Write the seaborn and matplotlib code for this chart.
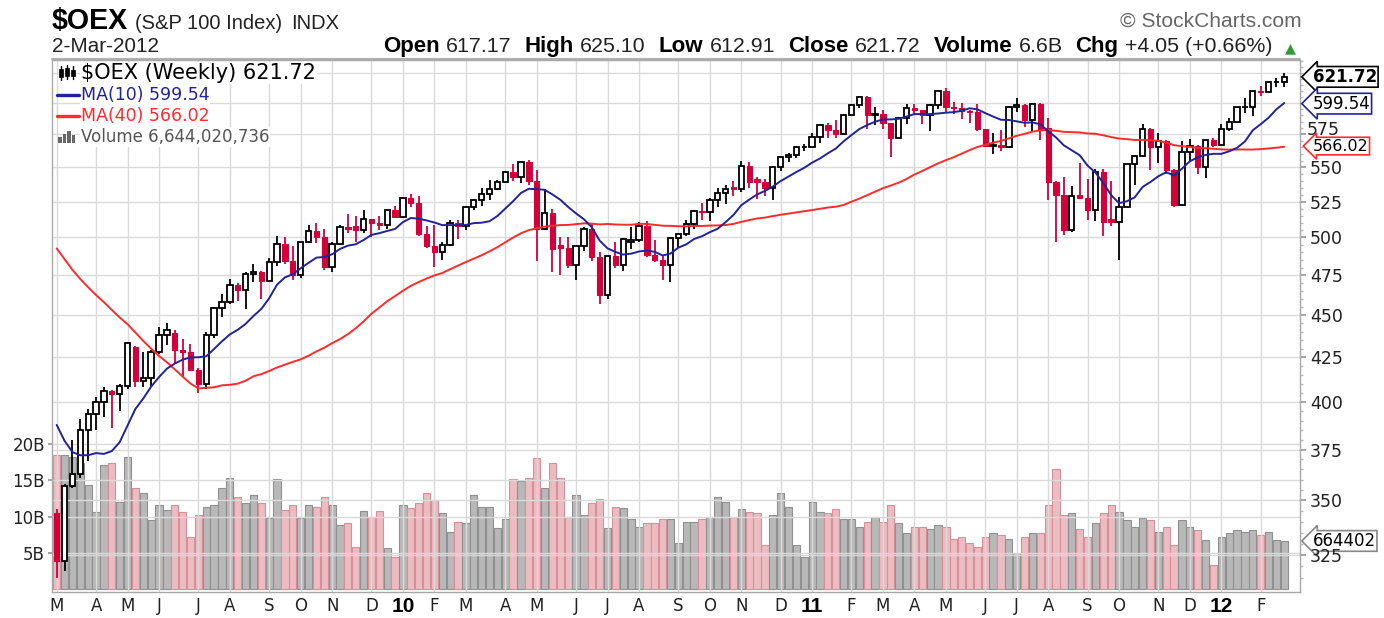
import numpy as np
import pandas as pd
import matplotlib
matplotlib.use("Agg")
import matplotlib.pyplot as plt
import matplotlib.transforms as mtransforms
from matplotlib.lines import Line2D
from matplotlib.patches import Rectangle
import seaborn as sns

# weekly bars of $OEX, weeks ending 6-Mar-2009 ... 2-Mar-2012
week_end = pd.date_range("2009-03-06", "2012-03-02", freq="W-FRI")

open_px = [
    344.00, 322.56, 357.09, 362.75, 385.12, 393.45, 400.01, 406.10, 404.53, 408.92,
    431.00, 411.42, 413.34, 428.32, 438.08, 439.00, 429.29, 428.21, 417.73, 409.67,
    438.22, 454.38, 458.19, 468.86, 465.90, 476.12, 477.42, 471.61, 483.83, 495.69,
    484.07, 475.18, 496.64, 504.14, 500.39, 480.27, 495.62, 506.83, 507.50, 505.20,
    512.62, 510.05, 508.24, 519.31, 514.06, 527.84, 523.71, 502.21, 493.98, 490.45,
    494.73, 510.22, 508.07, 520.96, 526.12, 530.65, 533.72, 538.98, 546.42, 542.42,
    553.86, 539.94, 505.45, 516.73, 495.00, 492.96, 481.86, 493.95, 505.67, 487.23,
    462.72, 487.78, 481.86, 497.00, 498.47, 507.54, 488.36, 484.94, 481.73, 499.79,
    502.07, 509.33, 518.62, 517.53, 526.07, 531.05, 535.60, 534.24, 551.02, 541.00,
    539.28, 534.63, 550.51, 557.56, 559.14, 564.92, 565.31, 572.81, 582.60, 578.15,
    574.99, 590.55, 598.78, 605.03, 590.65, 591.21, 583.67, 572.44, 587.93, 596.25,
    594.36, 590.56, 598.48, 610.22, 597.06, 595.98, 593.97, 593.01, 579.22, 566.22,
    566.45, 565.09, 596.82, 598.66, 586.34, 599.21, 580.00, 539.12, 529.88, 505.03,
    529.50, 527.70, 518.83, 546.60, 513.00, 510.27, 521.11, 552.29, 558.45, 579.58,
    565.21, 570.00, 548.26, 522.56, 561.17, 566.09, 550.07, 570.66, 567.18, 579.49,
    584.60, 596.52, 596.96, 609.91, 608.89, 617.32, 617.17,
]
high_px = [
    346.0, 358.0, 380.0, 391.0, 396.0, 402.5, 408.0, 406.5, 410.0, 434.0,
    431.5, 428.0, 429.0, 443.0, 445.0, 441.0, 435.5, 433.0, 419.0, 440.0,
    455.0, 463.0, 472.5, 470.0, 477.0, 482.5, 478.0, 486.0, 501.0, 500.5,
    494.0, 497.0, 508.5, 510.0, 506.0, 497.0, 508.5, 516.0, 515.0, 519.0,
    513.0, 515.0, 520.0, 521.5, 528.5, 530.5, 529.0, 508.0, 508.5, 497.0,
    512.0, 512.0, 521.5, 527.0, 535.0, 540.5, 540.5, 547.0, 552.5, 554.5,
    555.5, 548.0, 534.0, 520.0, 500.0, 500.0, 494.5, 507.0, 510.0, 490.0,
    488.0, 497.0, 499.5, 507.0, 510.5, 511.0, 498.0, 488.0, 500.5, 503.0,
    512.0, 519.0, 524.0, 527.5, 535.0, 537.0, 540.0, 554.5, 554.0, 543.0,
    541.5, 551.0, 558.0, 560.5, 566.0, 567.5, 576.0, 583.0, 584.0, 586.5,
    591.0, 599.5, 605.5, 606.0, 596.5, 594.0, 584.0, 589.0, 599.0, 599.5,
    594.5, 599.0, 611.0, 612.0, 601.0, 600.0, 594.0, 599.5, 579.5, 576.0,
    578.5, 597.5, 604.5, 599.0, 600.0, 600.0, 588.0, 540.0, 543.0, 536.0,
    553.0, 541.0, 548.5, 549.0, 539.5, 528.5, 552.5, 559.0, 583.0, 580.0,
    576.0, 570.5, 548.5, 570.0, 571.5, 566.5, 570.7, 572.5, 583.0, 588.0,
    597.0, 604.5, 610.0, 614.0, 618.5, 621.0, 625.10,
]
low_px = [
    315.0, 318.0, 356.0, 361.0, 369.0, 385.0, 392.0, 386.0, 395.0, 407.0,
    408.0, 408.0, 409.0, 427.0, 432.0, 421.0, 414.0, 417.0, 405.0, 407.0,
    436.0, 449.0, 457.0, 459.0, 454.0, 471.0, 460.0, 471.0, 481.0, 482.0,
    472.0, 473.0, 496.0, 496.0, 478.5, 477.0, 495.0, 503.0, 497.0, 503.0,
    500.5, 505.0, 506.0, 513.5, 513.5, 521.0, 501.0, 493.0, 480.5, 485.0,
    494.0, 499.0, 505.0, 519.0, 522.0, 526.0, 533.0, 538.5, 539.5, 538.5,
    537.0, 484.0, 505.0, 477.0, 475.0, 480.0, 472.0, 491.0, 484.0, 457.0,
    460.0, 480.0, 478.0, 492.0, 497.0, 487.0, 483.5, 472.0, 471.0, 493.0,
    501.0, 506.0, 512.0, 511.0, 521.0, 523.0, 529.0, 531.5, 535.0, 527.0,
    529.0, 526.0, 547.0, 554.0, 557.0, 562.5, 565.0, 568.5, 572.5, 572.0,
    574.5, 590.0, 596.0, 579.0, 582.5, 579.0, 558.0, 572.0, 583.0, 591.0,
    583.0, 578.0, 595.5, 592.0, 591.0, 587.0, 584.0, 578.0, 565.0, 560.0,
    562.0, 564.5, 593.0, 580.5, 577.0, 571.0, 526.0, 497.0, 502.0, 504.0,
    527.0, 512.0, 511.0, 501.0, 508.0, 485.0, 521.0, 537.0, 558.0, 548.0,
    553.0, 545.0, 521.0, 522.0, 555.0, 545.0, 542.0, 565.5, 567.0, 578.0,
    584.5, 592.0, 589.5, 605.5, 608.0, 613.0, 612.91,
]
close_px = [
    322.56, 357.09, 362.75, 385.12, 393.45, 400.01, 406.10, 404.53, 408.92, 433.02,
    411.42, 413.34, 428.32, 438.08, 440.93, 429.29, 428.21, 417.73, 409.67, 438.22,
    454.38, 458.19, 468.86, 465.90, 476.12, 477.42, 471.61, 483.83, 495.69, 484.07,
    475.18, 496.64, 504.14, 500.39, 480.27, 495.62, 506.83, 505.85, 505.20, 512.62,
    510.05, 508.24, 519.31, 514.06, 527.84, 523.71, 502.21, 493.98, 490.45, 494.73,
    510.22, 508.07, 520.96, 526.12, 530.65, 533.72, 538.98, 546.42, 542.42, 553.86,
    539.94, 505.45, 516.73, 492.18, 492.96, 481.86, 493.95, 505.67, 487.23, 462.72,
    487.78, 481.86, 498.95, 498.47, 507.54, 488.36, 484.94, 481.73, 499.79, 502.07,
    509.33, 518.62, 517.53, 526.07, 531.05, 534.16, 534.24, 551.02, 539.04, 539.28,
    534.63, 550.51, 557.56, 559.14, 564.92, 565.31, 572.81, 582.60, 578.15, 574.99,
    590.55, 598.78, 605.03, 590.65, 591.21, 583.67, 572.44, 587.93, 596.25, 594.36,
    590.56, 598.48, 610.22, 597.06, 595.98, 593.97, 593.01, 579.22, 566.22, 566.45,
    565.09, 596.82, 598.66, 586.34, 599.21, 578.50, 539.12, 529.88, 505.03, 528.97,
    527.70, 518.83, 546.60, 510.83, 510.27, 521.11, 552.29, 558.45, 579.58, 565.21,
    570.00, 548.26, 522.56, 561.17, 566.09, 550.07, 570.66, 567.18, 579.49, 584.60,
    596.52, 596.96, 609.91, 608.89, 617.32, 617.67, 621.72,
]
# volume in billions of shares
volume_bn = [
    18.5, 18.5, 18.2, 17.4, 14.3, 10.6, 17.1, 17.4, 12.0, 18.2,
    13.9, 13.2, 9.5, 11.6, 10.9, 11.6, 10.6, 7.2, 10.2, 11.3,
    11.6, 13.9, 15.3, 12.7, 11.9, 13.0, 11.9, 9.8, 15.2, 10.9,
    11.6, 9.8, 11.6, 11.3, 12.7, 11.6, 8.8, 9.1, 5.8, 10.8,
    9.9, 10.8, 5.7, 4.4, 11.6, 11.2, 11.9, 13.2, 12.3, 10.5,
    7.9, 9.2, 9.1, 13.0, 11.3, 11.3, 8.4, 9.7, 15.2, 14.9,
    15.3, 18.1, 13.9, 17.4, 15.3, 9.9, 13.0, 10.2, 11.9, 12.4,
    8.4, 11.3, 11.2, 9.7, 8.6, 9.1, 9.1, 9.7, 9.7, 6.3,
    9.2, 9.2, 9.7, 9.9, 12.7, 12.0, 9.9, 11.0, 10.6, 10.5,
    6.1, 10.2, 13.2, 11.3, 6.1, 4.4, 12.0, 10.6, 10.5, 11.0,
    9.7, 9.7, 8.6, 9.2, 9.9, 9.2, 11.6, 9.1, 7.7, 8.6,
    8.6, 8.3, 8.8, 8.6, 6.9, 7.2, 6.3, 5.8, 7.2, 7.7,
    7.4, 6.9, 5.0, 7.2, 7.7, 7.7, 11.6, 16.6, 10.2, 10.5,
    8.3, 7.2, 9.1, 10.5, 11.6, 10.6, 9.5, 8.6, 9.8, 9.5,
    7.9, 8.6, 6.1, 9.5, 8.6, 8.1, 6.8, 3.3, 7.2, 7.7,
    8.1, 7.9, 8.1, 7.4, 7.9, 6.8, 6.644,
]
# 39 weekly closes before the first bar (Jun 2008 - Feb 2009), only feed the moving averages
prior_close = [
    642.2, 641.9, 622.1, 603.4, 596.1, 585.0, 595.0, 593.7, 594.9, 611.9,
    612.8, 609.9, 605.5, 586.4, 590.8, 592.4, 572.7, 518.8, 424.4, 443.9,
    413.8, 457.2, 439.4, 412.2, 377.6, 423.0, 413.5, 415.2, 419.1, 412.0,
    439.8, 420.2, 401.3, 392.7, 389.8, 410.0, 390.3, 363.5, 347.0,
]

grid_levels = [325, 350, 375, 400, 425, 450, 475, 500, 525, 550, 575, 600, 625]
price_labels = [325, 350, 375, 400, 425, 450, 475, 500, 525, 550]  # 575 placed by hand, 600/625 under tags
volume_ticks = [5, 10, 15, 20]
month_letters = ["J", "F", "M", "A", "M", "J", "J", "A", "S", "O", "N", "D"]

header_runs = [("Open", "617.17"), ("High", "625.10"), ("Low", "612.91"),
               ("Close", "621.72"), ("Volume", "6.6B"), ("Chg", "+4.05 (+0.66%)")]
legend_lines = ["$OEX (Weekly) 621.72", "MA(10) 599.54", "MA(40) 566.02", "Volume 6,644,020,736"]
tag_values = {"close": 621.72, "ma10": 599.54, "ma40": 566.02, "vol": 6.644}

# ---- data frame ----
df = pd.DataFrame({"date": week_end, "open": open_px, "high": high_px,
                   "low": low_px, "close": close_px, "volume": volume_bn})
df["idx"] = np.arange(len(df))
all_close = pd.Series(prior_close + close_px)
n_prior = len(prior_close)
df["ma10"] = all_close.rolling(10).mean().iloc[n_prior:].values
df["ma40"] = all_close.rolling(40).mean().iloc[n_prior:].values
up = df["close"] >= df["open"]

# month starts: first bar whose Monday falls into a new month
monday = df["date"] - pd.Timedelta(days=4)
mkey = monday.dt.year * 12 + monday.dt.month
month_idx = [0] + [i for i in range(1, len(df)) if mkey[i] != mkey[i - 1]]

# ---- figure ----
sns.set_theme(style="white")
plt.rcParams["font.family"] = ["Liberation Sans", "DejaVu Sans"]

W, H = 1384, 618
fig = plt.figure(figsize=(W / 100, H / 100), dpi=100)
fig.patch.set_facecolor("white")


def fx(px):
    return px / W


def fy(py):
    return 1 - py / H


L, R, T, B = 52, 1300, 60, 592
rect = [fx(L), fy(B), fx(R) - fx(L), fy(T) - fy(B)]
vax = fig.add_axes(rect, zorder=1)
ax = fig.add_axes(rect, zorder=2)
ax.patch.set_alpha(0)

xlim = (-0.6, 158.0)
ylim = (309.1, 636.1)
vlim = (-0.4, 73.0)
red = "#d4003a"
grid_c = "#dadada"
navy = "#22229a"
ma_red = "#ff2b2b"

# volume bars
vcol = np.where(up, "#b8b8b8", "#ebbcc1")
vedge = np.where(up, "#909090", "#d98f99")
vax.bar(df["idx"], df["volume"], width=0.92, color=vcol, edgecolor=vedge, linewidth=0.8)
vax.set_xlim(*xlim)
vax.set_ylim(*vlim)
vax.set_yticks(volume_ticks)
vax.set_yticklabels([f"{v}B" for v in volume_ticks], family="DejaVu Sans", fontsize=12, color="#222")
vax.yaxis.tick_left()
vax.tick_params(axis="y", length=3, color="#999", pad=2)
vax.set_xticks([])
for sp in vax.spines.values():
    sp.set_visible(False)

# price panel
ax.set_yscale("log")
ax.set_xlim(*xlim)
ax.set_ylim(*ylim)
for v in grid_levels:
    ax.axhline(v, color=grid_c, lw=1.0, zorder=0)
for v in volume_ticks:
    frac = (v - vlim[0]) / (vlim[1] - vlim[0])
    ax.axhline(ylim[0] * (ylim[1] / ylim[0]) ** frac, color=grid_c, lw=1.0, zorder=0)
for i in month_idx:
    ax.axvline(i, color=grid_c, lw=1.0, zorder=0)

# candles
wick_c = np.where(up, "black", red)
ax.vlines(df["idx"], df["low"], df["high"], colors=wick_c, lw=1.3, zorder=3)
du = df[up]
dd = df[~up]
ax.bar(du["idx"], (du["close"] - du["open"]).clip(lower=0.3), bottom=du["open"], width=0.68,
       facecolor="white", edgecolor="black", linewidth=1.3, zorder=4)
ax.bar(dd["idx"], dd["open"] - dd["close"], bottom=dd["close"], width=0.68,
       facecolor=red, edgecolor=red, linewidth=0.8, zorder=4)

# moving averages
sns.lineplot(data=df, x="idx", y="ma40", ax=ax, color=ma_red, lw=1.4, legend=False, zorder=5)
sns.lineplot(data=df, x="idx", y="ma10", ax=ax, color=navy, lw=1.4, legend=False, zorder=5)
ax.set_xlabel("")
ax.set_ylabel("")

ax.yaxis.tick_right()
ax.yaxis.set_major_locator(matplotlib.ticker.FixedLocator(price_labels + [575]))
ax.yaxis.set_minor_locator(matplotlib.ticker.FixedLocator(np.arange(315, 636, 5)))
ax.yaxis.set_major_formatter(matplotlib.ticker.FixedFormatter([str(v) for v in price_labels] + [""]))
ax.yaxis.set_minor_formatter(matplotlib.ticker.NullFormatter())
ax.tick_params(axis="y", which="major", length=4, color="#999", pad=3, labelsize=12.5, labelcolor="#222")
ax.tick_params(axis="y", which="minor", length=2, color="#bbb")
for lab in ax.get_yticklabels():
    lab.set_family("DejaVu Sans")
# 575 sits just above the MA(40) tag
ax.annotate("575", xy=(1, 575), xycoords=("axes fraction", "data"), xytext=(5, 3),
            textcoords="offset points", ha="left", va="center", fontsize=12.5,
            family="DejaVu Sans", color="#222", annotation_clip=False, zorder=15)

ax.set_xticks(month_idx)
ax.set_xticklabels([])
ax.set_xticks(df["idx"], minor=True)
ax.tick_params(axis="x", which="major", length=5, color="#999")
ax.tick_params(axis="x", which="minor", length=3, color="#bbb")
for sp in ax.spines.values():
    sp.set_color("#a8a8a8")
    sp.set_linewidth(1.0)

# month labels
btrans = mtransforms.blended_transform_factory(ax.transData, ax.transAxes)
for i in month_idx:
    d = monday[i]
    if d.month == 1:
        ax.text(i, -0.027, f"{d.year % 100:02d}", transform=btrans, ha="center", va="center",
                fontsize=15, fontweight="bold", color="black")
    else:
        ax.text(i, -0.027, month_letters[d.month - 1], transform=btrans, ha="center", va="center",
                fontsize=12, color="#222", family="DejaVu Sans")


# price tags on the right edge
def tag(axis, yval, text, ec, bold=False, size=12):
    axis.annotate(text, xy=(1, yval), xycoords=("axes fraction", "data"),
                  xytext=(9, 0), textcoords="offset points", ha="left", va="center",
                  fontsize=size, family="DejaVu Sans", fontweight="bold" if bold else "normal",
                  color="black", annotation_clip=False, zorder=20,
                  bbox=dict(boxstyle="larrow,pad=0.08", fc="white", ec=ec, lw=1.2))


tag(ax, tag_values["close"], f"{tag_values['close']:.2f}", "black", bold=True)
tag(ax, tag_values["ma10"], f"{tag_values['ma10']:.2f}", navy)
tag(ax, tag_values["ma40"], f"{tag_values['ma40']:.2f}", ma_red, size=11.5)
tag(vax, tag_values["vol"], "664402", "#888")

# legend in the upper left of the plot
leg_y = [73, 95, 116, 137]
leg_col = ["black", navy, ma_red, "#555"]
leg_size = [15, 12.5, 12.5, 12]
for k, (txt, yy) in enumerate(zip(legend_lines, leg_y)):
    fig.text(fx(81), fy(yy), txt, ha="left", va="center", family="DejaVu Sans",
             fontsize=leg_size[k], color=leg_col[k], zorder=30,
             bbox=dict(boxstyle="square,pad=0.05", fc="white", ec="none"))
# legend icons
for (x0, lo, hi, b0, b1) in [(61, 66, 80, 69, 77), (67, 65, 79, 68, 76), (73, 66, 79, 70, 76)]:
    fig.add_artist(Line2D([fx(x0), fx(x0)], [fy(lo), fy(hi)], color="black", lw=1, zorder=31))
    fig.add_artist(Rectangle((fx(x0 - 2), fy(b1)), fx(4), fy(b0) - fy(b1),
                             fc="black", ec="black", lw=0.5, zorder=31))
fig.add_artist(Line2D([fx(57), fx(79)], [fy(95), fy(95)], color=navy, lw=2.4, zorder=31))
fig.add_artist(Line2D([fx(57), fx(79)], [fy(116), fy(116)], color=ma_red, lw=2.4, zorder=31))
for k, hgt in enumerate([6, 9, 12, 8]):
    fig.add_artist(Rectangle((fx(58 + 4.5 * k), fy(143)), fx(3.6), fy(143 - hgt) - fy(143),
                             fc="#666", ec="none", zorder=31))

# header
fig.canvas.draw()
rend = fig.canvas.get_renderer()


def runs_fit(runs, y_px, x_left, x_right):
    """place text runs side by side and scale them to span x_left..x_right"""
    texts, gaps = [], []
    for s, gap, kw in runs:
        texts.append(fig.text(0, fy(y_px), s, va="baseline", **kw))
        gaps.append(gap)

    def measure():
        w = [t.get_window_extent(rend).width for t in texts]
        return w, sum(w) + sum(gaps[:-1])

    widths, total = measure()
    scale = (x_right - x_left) / total
    for t in texts:
        t.set_fontsize(t.get_fontsize() * scale)
    gaps = [g * scale for g in gaps]
    widths, total = measure()
    x = x_left
    for t, w, g in zip(texts, widths, gaps):
        t.set_x(fx(x))
        x += w + g


runs_fit([("$OEX", 6, dict(fontsize=17, fontweight="bold", color="black")),
          ("(S&P 100 Index)", 7, dict(fontsize=12, color="#222")),
          ("INDX", 0, dict(fontsize=12, color="#222"))], 29, 52, 340)
runs_fit([("2-Mar-2012", 0, dict(fontsize=12, color="#222"))], 52, 52, 160)
hr = []
for lab, val in header_runs:
    hr.append((lab, 5, dict(fontsize=12.5, fontweight="bold", color="black")))
    hr.append((val, 10, dict(fontsize=12, color="#222")))
hr.append(("\u25b2", 0, dict(fontsize=8, color="#2f9a3a", family="DejaVu Sans")))
runs_fit(hr, 52, 383, 1298)
runs_fit([("\u00a9 StockCharts.com", 0, dict(fontsize=13, color="#666"))], 27, 1120, 1300)
fig.add_artist(Line2D([fx(52), fx(1300)], [fy(58.5), fy(58.5)], color="#b0b0b0", lw=1.5))

fig.savefig("out.png", dpi=100)
